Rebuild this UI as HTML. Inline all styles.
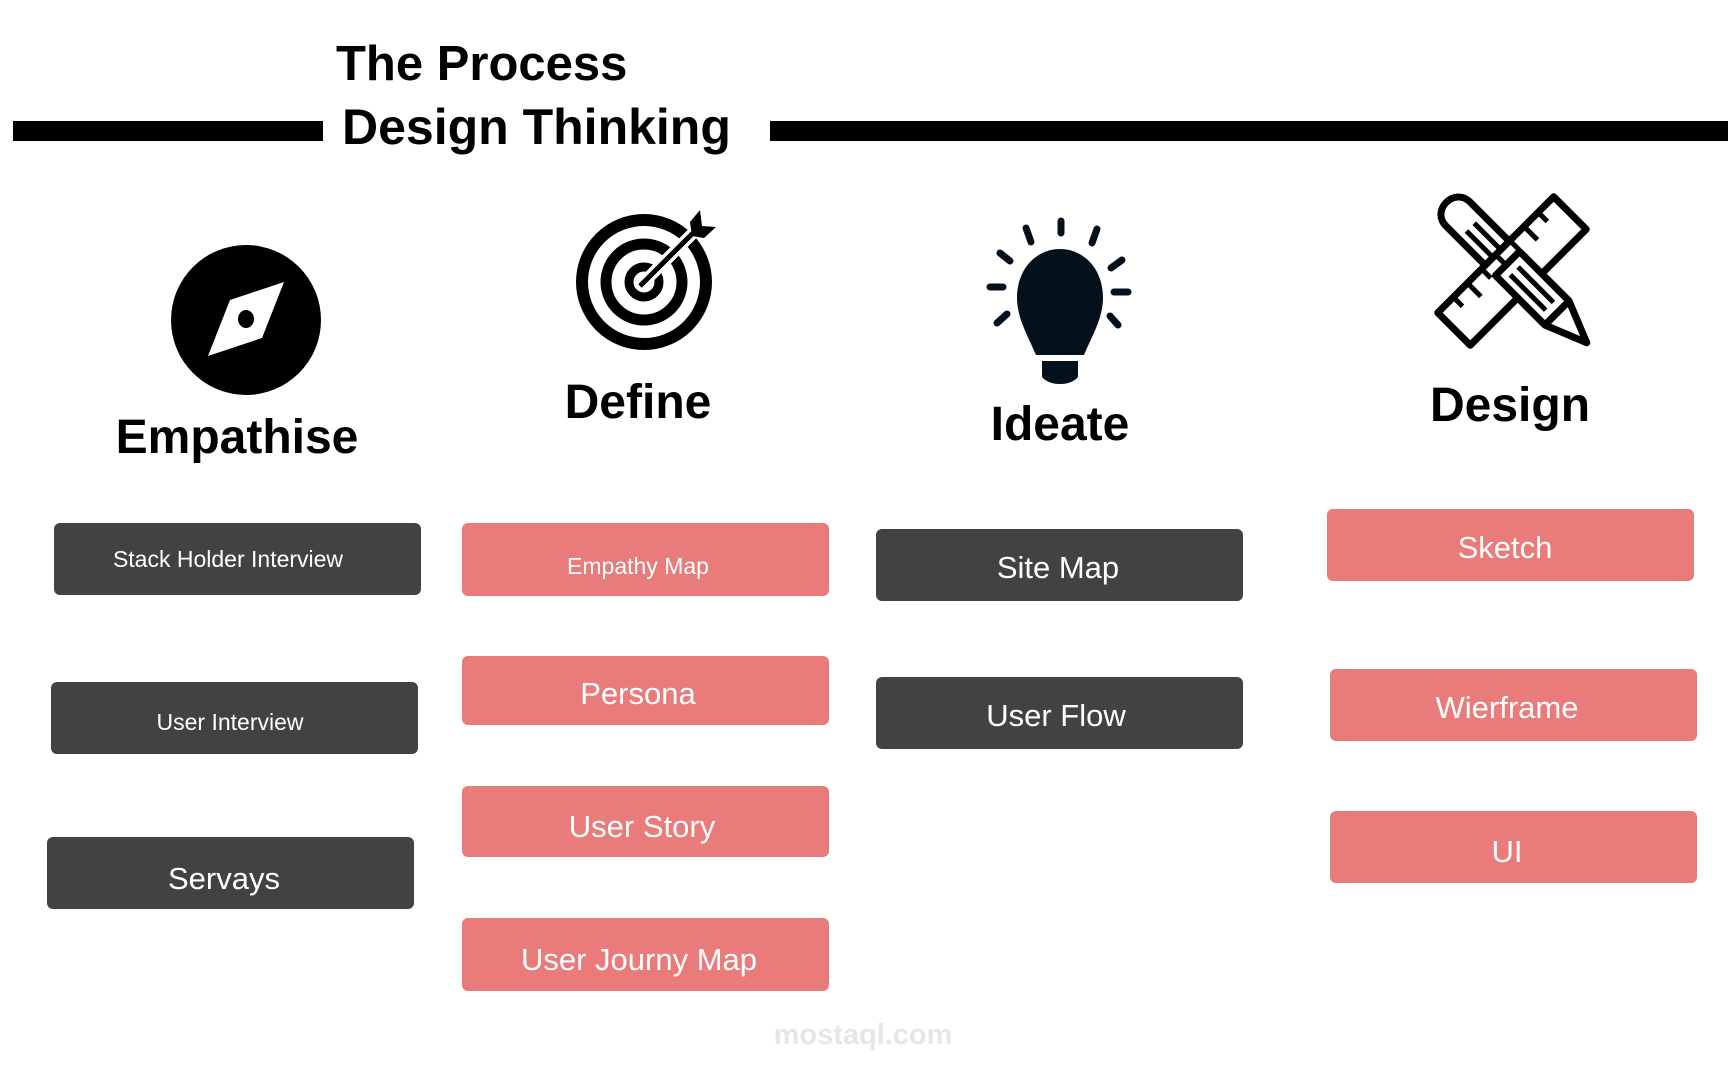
<!DOCTYPE html>
<html><head><meta charset="utf-8"><style>
html,body{margin:0;padding:0;background:#fff;}
svg{display:block;}
text{font-family:"Liberation Sans",sans-serif;}
</style></head><body>
<svg width="1728" height="1075" viewBox="0 0 1728 1075" xmlns="http://www.w3.org/2000/svg">
<rect x="13" y="121" width="310" height="20" fill="#000"/>
<rect x="770" y="121" width="958" height="20" fill="#000"/>
<text x="336" y="80" font-size="49" font-weight="bold" fill="#000">The Process</text>
<text x="342" y="144" font-size="50" font-weight="bold" fill="#000">Design Thinking</text>

<!-- compass -->
<circle cx="246" cy="320" r="75" fill="#000"/>
<polygon points="284,282 262,338 208,356 230,300" fill="#fff"/>
<ellipse cx="246" cy="319" rx="8" ry="9" fill="#000"/>
<text x="237" y="453" font-size="48" font-weight="bold" text-anchor="middle">Empathise</text>

<!-- target -->
<circle cx="644" cy="282" r="62" fill="none" stroke="#000" stroke-width="12"/>
<circle cx="644" cy="282" r="38" fill="none" stroke="#000" stroke-width="11"/>
<circle cx="644" cy="282" r="15" fill="none" stroke="#000" stroke-width="9"/>
<line x1="640" y1="286" x2="700" y2="226" stroke="#fff" stroke-width="12"/>
<line x1="640" y1="286" x2="700" y2="226" stroke="#000" stroke-width="5"/>
<polygon points="690,222 700,210 702,226 716,227 704,238 692,236" fill="#000"/>
<text x="638" y="418" font-size="48" font-weight="bold" text-anchor="middle">Define</text>

<!-- bulb -->
<g fill="#04101c">
<path d="M1060,249 C1037,249 1017,268 1017,298 C1017,318 1028,336 1036,355 L1084,355 C1092,336 1103,318 1103,298 C1103,268 1083,249 1060,249Z"/>
<path d="M1042,361 L1078,361 L1078,377 Q1072,384 1060,384 Q1048,384 1042,377Z"/>
</g>
<g stroke="#04101c" stroke-width="7" stroke-linecap="round">
<line x1="1061" y1="221" x2="1061" y2="233"/>
<line x1="1026" y1="228" x2="1031" y2="242"/>
<line x1="1097" y1="229" x2="1092" y2="243"/>
<line x1="1000" y1="253" x2="1010" y2="261"/>
<line x1="1122" y1="260" x2="1111" y2="268"/>
<line x1="990" y1="287" x2="1003" y2="287"/>
<line x1="1114" y1="292" x2="1128" y2="292"/>
<line x1="997" y1="323" x2="1007" y2="314"/>
<line x1="1110" y1="316" x2="1118" y2="325"/>
</g>
<text x="1060" y="440" font-size="48" font-weight="bold" text-anchor="middle">Ideate</text>

<!-- pencil & ruler -->
<g fill="#fff" stroke="#000" stroke-width="7" stroke-linejoin="round">
<g transform="translate(1458,214) rotate(45)">
<path d="M0,-17 L140,-17 L182,0 L140,17 L0,17 C-22,17 -22,-17 0,-17Z"/>
<line x1="140" y1="-17" x2="140" y2="17"/>
<line x1="160" y1="-9" x2="160" y2="9"/>
<line x1="18" y1="-5" x2="130" y2="-5" stroke-width="5"/>
<line x1="18" y1="6" x2="130" y2="6" stroke-width="5"/>
</g>
<g transform="translate(1512,271) rotate(-45)">
<rect x="-82" y="-23" width="164" height="46"/>
<g stroke-width="5">
<line x1="-60" y1="-23" x2="-60" y2="-10"/>
<line x1="-40" y1="-23" x2="-40" y2="-4"/>
<line x1="-20" y1="-23" x2="-20" y2="-10"/>
<line x1="0" y1="-23" x2="0" y2="-4"/>
<line x1="20" y1="-23" x2="20" y2="-10"/>
<line x1="40" y1="-23" x2="40" y2="-4"/>
<line x1="60" y1="-23" x2="60" y2="-10"/>
</g>
</g>
<g transform="translate(1458,214) rotate(45)">
<path d="M70,-17 L140,-17 L182,0 L140,17 L70,17Z"/>
<line x1="140" y1="-17" x2="140" y2="17"/>
<line x1="80" y1="-5" x2="130" y2="-5" stroke-width="5"/>
<line x1="80" y1="6" x2="130" y2="6" stroke-width="5"/>
</g>
</g>
<text x="1510" y="421" font-size="48" font-weight="bold" text-anchor="middle">Design</text>

<g font-size="23" fill="#fff" text-anchor="middle">
<rect x="54" y="523" width="367" height="72" rx="6" fill="#434241"/>
<text x="228" y="567">Stack Holder Interview</text>
<rect x="51" y="682" width="367" height="72" rx="6" fill="#434241"/>
<text x="230" y="730">User Interview</text>
<rect x="47" y="837" width="367" height="72" rx="6" fill="#434241"/>
<text x="224" y="889" font-size="31">Servays</text>

<rect x="462" y="523" width="367" height="73" rx="6" fill="#e97b7b"/>
<text x="638" y="574">Empathy Map</text>
<rect x="462" y="656" width="367" height="69" rx="6" fill="#e97b7b"/>
<text x="638" y="704" font-size="31">Persona</text>
<rect x="462" y="786" width="367" height="71" rx="6" fill="#e97b7b"/>
<text x="642" y="837" font-size="31">User Story</text>
<rect x="462" y="918" width="367" height="73" rx="6" fill="#e97b7b"/>
<text x="639" y="970" font-size="31">User Journy Map</text>

<rect x="876" y="529" width="367" height="72" rx="6" fill="#434241"/>
<text x="1058" y="578" font-size="31">Site Map</text>
<rect x="876" y="677" width="367" height="72" rx="6" fill="#434241"/>
<text x="1056" y="726" font-size="31">User Flow</text>

<rect x="1327" y="509" width="367" height="72" rx="6" fill="#e97b7b"/>
<text x="1505" y="558" font-size="31">Sketch</text>
<rect x="1330" y="669" width="367" height="72" rx="6" fill="#e97b7b"/>
<text x="1507" y="718" font-size="31">Wierframe</text>
<rect x="1330" y="811" width="367" height="72" rx="6" fill="#e97b7b"/>
<text x="1507" y="862" font-size="31">UI</text>
</g>

<text x="863" y="1044" font-size="29" font-weight="bold" fill="#e6e6e6" text-anchor="middle">mostaql.com</text>
</svg>
</body></html>
